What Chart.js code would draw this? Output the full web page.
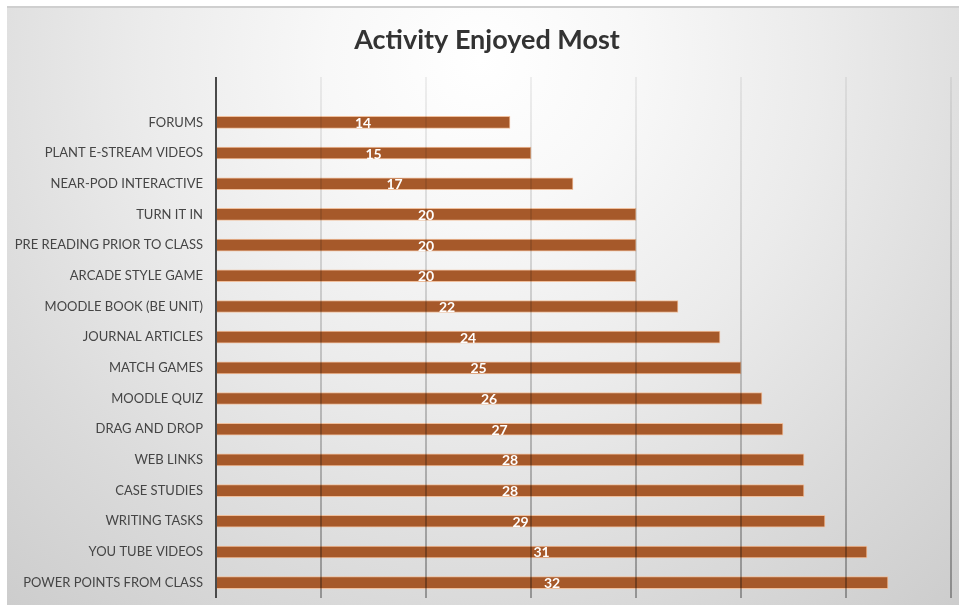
<!DOCTYPE html>
<html>
<head>
<meta charset="utf-8">
<script src="https://cdn.jsdelivr.net/npm/chart.js@4.4.1/dist/chart.umd.min.js"></script>
<style>
  html, body { margin: 0; padding: 0; background: #fff; }
  #wrap { width: 959px; height: 612px; }
</style>
</head>
<body>
<div id="wrap"><canvas id="activityChart" width="959" height="612"></canvas></div>
<script>
// Survey results: how many students picked each activity
const activities = [
  'FORUMS', 'PLANT E-STREAM VIDEOS', 'NEAR-POD INTERACTIVE', 'TURN IT IN',
  'PRE READING PRIOR TO CLASS', 'ARCADE STYLE GAME', 'MOODLE BOOK (BE UNIT)',
  'JOURNAL ARTICLES', 'MATCH GAMES', 'MOODLE QUIZ', 'DRAG AND DROP',
  'WEB LINKS', 'CASE STUDIES', 'WRITING TASKS', 'YOU TUBE VIDEOS',
  'POWER POINTS FROM CLASS'
];
const votes = [14, 15, 17, 20, 20, 20, 22, 24, 25, 26, 27, 28, 28, 29, 31, 32];
const axisMax = 35;
const axisStep = 5;
const chartTitle = 'Activity Enjoyed Most';

const barColor = '#a6592a';
const barEdge = '#f0bf9c';
const labelFont = 'Lato, "Open Sans", sans-serif';

// Shaded panel behind everything, lighter near the top centre
const panelBackground = {
  id: 'panelBackground',
  beforeDraw(chart) {
    const { ctx, width, height } = chart;
    ctx.save();
    ctx.fillStyle = '#ffffff';
    ctx.fillRect(0, 0, width, height);
    const g = ctx.createRadialGradient(480, 60, 0, 480, 60, 760);
    g.addColorStop(0, '#ffffff');
    g.addColorStop(0.2, '#f8f8f8');
    g.addColorStop(0.45, '#ebebeb');
    g.addColorStop(0.72, '#dadada');
    g.addColorStop(1, '#cacaca');
    ctx.fillStyle = g;
    ctx.fillRect(7, 7, width - 7, 598);
    ctx.fillStyle = '#cfcfcf';
    ctx.fillRect(7, 6, width - 7, 2);
    ctx.restore();
  }
};

// Heading, centred a little right of the canvas middle
const headline = {
  id: 'headline',
  afterDraw(chart) {
    const { ctx } = chart;
    ctx.save();
    ctx.fillStyle = '#333333';
    ctx.font = 'bold 27px ' + labelFont;
    ctx.textAlign = 'center';
    ctx.textBaseline = 'middle';
    ctx.fillText(chartTitle, 487, 40);
    ctx.restore();
  }
};

// Vertical gridlines over the bars plus the dark value-zero axis
const gridOverlay = {
  id: 'gridOverlay',
  afterDatasetsDraw(chart) {
    const { ctx, chartArea, scales } = chart;
    const top = chartArea.top - 30;
    const bottom = chartArea.bottom;
    ctx.save();
    const g = ctx.createLinearGradient(0, top, 0, bottom);
    g.addColorStop(0, 'rgba(0,0,0,0.06)');
    g.addColorStop(0.5, 'rgba(0,0,0,0.17)');
    g.addColorStop(1, 'rgba(0,0,0,0.32)');
    ctx.strokeStyle = g;
    ctx.lineWidth = 2;
    for (let v = axisStep; v <= axisMax; v += axisStep) {
      const x = Math.round(scales.x.getPixelForValue(v));
      ctx.beginPath();
      ctx.moveTo(x, top);
      ctx.lineTo(x, bottom);
      ctx.stroke();
    }
    const x0 = Math.round(scales.x.getPixelForValue(0));
    ctx.strokeStyle = '#4a4a4a';
    ctx.lineWidth = 2;
    ctx.beginPath();
    ctx.moveTo(x0, top);
    ctx.lineTo(x0, bottom);
    ctx.stroke();
    ctx.restore();
  }
};

// Value written in the middle of each bar
const barValues = {
  id: 'barValues',
  afterDraw(chart) {
    const { ctx } = chart;
    const meta = chart.getDatasetMeta(0);
    ctx.save();
    ctx.fillStyle = '#ffffff';
    ctx.font = 'bold 14px ' + labelFont;
    ctx.textAlign = 'center';
    ctx.textBaseline = 'middle';
    meta.data.forEach((bar, i) => {
      const cx = (bar.x + bar.base) / 2;
      ctx.fillText(String(votes[i]), cx, bar.y + 1);
    });
    ctx.restore();
  }
};

const ctx = document.getElementById('activityChart').getContext('2d');
new Chart(ctx, {
  type: 'bar',
  data: {
    labels: activities,
    datasets: [{
      data: votes,
      backgroundColor: barColor,
      borderColor: barEdge,
      borderWidth: 1,
      borderSkipped: false,
      barThickness: 12
    }]
  },
  options: {
    indexAxis: 'y',
    responsive: false,
    animation: false,
    layout: { padding: { top: 107, right: 8, bottom: 6, left: 7 } },
    scales: {
      x: {
        min: 0,
        max: axisMax,
        ticks: { display: false, stepSize: axisStep },
        grid: { display: false },
        border: { display: false }
      },
      y: {
        grid: { display: false },
        border: { display: false },
        ticks: {
          color: '#454545',
          padding: 5,
          font: { family: labelFont, size: 13 }
        },
        afterFit(scale) { scale.width = 209; }
      }
    },
    plugins: {
      legend: { display: false },
      tooltip: { enabled: false },
      title: { display: false }
    }
  },
  plugins: [panelBackground, gridOverlay, barValues, headline]
});
</script>
</body>
</html>
